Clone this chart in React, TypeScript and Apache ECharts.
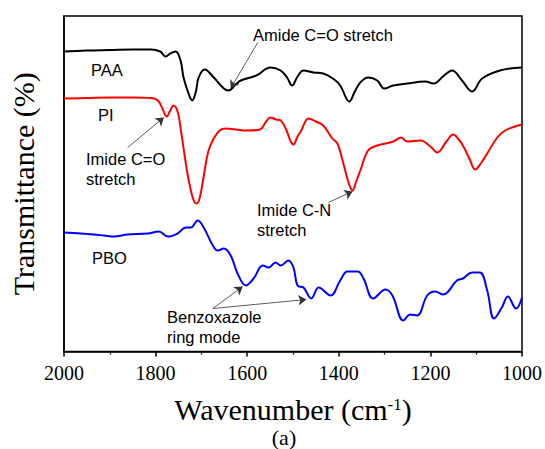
import React, { useEffect, useRef } from "react";
import * as echarts from "echarts";

// Wavenumber (cm-1) vs. transmittance (arbitrary offset units)
const paaData: [number, number][] = [
  [2000, 300], [1950, 301], [1900, 301.5], [1850, 302], [1810, 302], [1790, 300], [1778, 295], [1768, 298],
  [1756, 300], [1745, 290], [1739, 274], [1728, 258], [1720, 251], [1712, 260], [1706, 274], [1693, 282],
  [1673, 274], [1651, 263], [1641, 261], [1625, 267], [1614, 271], [1580, 276], [1549, 284], [1527, 281],
  [1513, 274], [1502, 266], [1490, 275], [1477, 281], [1455, 279], [1434, 278], [1410, 272], [1397, 266],
  [1377, 250], [1365, 260], [1353, 269], [1336, 274], [1316, 271], [1301, 263], [1281, 266], [1251, 268],
  [1211, 270], [1194, 268], [1170, 276], [1153, 281], [1131, 271], [1109, 260], [1087, 273], [1048, 281],
  [1000, 284],
];

const piData: [number, number][] = [
  [2000, 253], [1950, 253.5], [1900, 254], [1850, 254], [1810, 253.5], [1795, 251], [1785, 243], [1776, 235],
  [1768, 241], [1761, 246], [1752, 240], [1745, 222], [1735, 191], [1725, 165], [1716, 150], [1710, 148],
  [1703, 155], [1695, 175], [1685, 200], [1673, 213], [1660, 221], [1647, 223], [1625, 222], [1600, 221],
  [1572, 222], [1560, 229], [1549, 234], [1537, 232], [1527, 231], [1515, 222], [1505, 210], [1499, 207],
  [1490, 215], [1482, 221], [1466, 233], [1450, 230], [1434, 226], [1414, 213], [1403, 208], [1390, 188],
  [1378, 168], [1370, 161], [1362, 170], [1353, 181], [1336, 201], [1316, 206], [1281, 210], [1264, 214],
  [1251, 210], [1222, 211], [1200, 205], [1185, 199], [1165, 210], [1150, 217], [1138, 212], [1129, 206],
  [1115, 193], [1102, 182], [1090, 188], [1076, 198], [1054, 214], [1037, 221], [1015, 225], [1000, 227],
];

const pboData: [number, number][] = [
  [2000, 119], [1963, 118], [1935, 117], [1913, 116], [1891, 115], [1861, 117], [1817, 118], [1793, 120],
  [1773, 115], [1752, 118], [1734, 124], [1723, 124], [1708, 131], [1695, 124], [1675, 106], [1664, 101],
  [1651, 103], [1636, 96], [1621, 78], [1603, 66], [1586, 73], [1566, 86], [1553, 84], [1538, 89],
  [1527, 86], [1510, 91], [1499, 84], [1490, 66], [1477, 64], [1460, 53], [1444, 64], [1418, 56],
  [1397, 71], [1381, 80], [1359, 80], [1346, 73], [1325, 53], [1298, 62], [1283, 56], [1259, 31],
  [1244, 37], [1229, 36], [1207, 56], [1190, 60], [1172, 57], [1142, 71], [1129, 73], [1109, 79],
  [1092, 79], [1076, 61], [1061, 33], [1044, 44], [1031, 55], [1013, 43], [1000, 54],
];

// Annotation arrows: [from, to] in data coordinates
const arrows: [[number, number], [number, number]][] = [
  [[1577, 309], [1636, 263]],
  [[1861, 204], [1782, 234]],
  [[1423, 149], [1370, 160]],
  [[1675, 43], [1610, 65]],
  [[1675, 43], [1471, 52]],
];

const xTicks = { min: 1000, max: 2000, interval: 200 };

const SERIF = "'Liberation Serif', 'Times New Roman', serif";
const SANS = "'Liberation Sans', Arial, sans-serif";

export default function App() {
  const ref = useRef<HTMLDivElement>(null);
  useEffect(() => {
    if (!ref.current) return;
    const chart = echarts.init(ref.current, null, { renderer: "svg" });
    const lineSeries = (name: string, data: [number, number][], color: string) => ({
      name,
      type: "line",
      data,
      smooth: 0.4,
      showSymbol: false,
      symbol: "none",
      lineStyle: { color, width: 2 },
      silent: true,
    });
    const paa: any = lineSeries("PAA", paaData, "#000000");
    paa.markLine = {
      silent: true,
      symbol: ["none", "arrow"],
      symbolSize: 8,
      label: { show: false },
      lineStyle: { color: "#333", width: 0.8, type: "solid" },
      data: arrows.map(([a, b]) => [{ coord: a }, { coord: b }]),
    };
    const txt = (text: string, left: number, top: number) => ({
      type: "text",
      left,
      top,
      style: { text, font: `16.5px ${SANS}`, fill: "#000", lineHeight: 20 },
    });
    chart.setOption({
      animation: false,
      grid: { left: 64, right: 23, top: 16, bottom: 97.5, show: true, borderColor: "#000", borderWidth: 1.5 },
      xAxis: {
        type: "value",
        ...xTicks,
        inverse: true,
        axisLine: { show: true, lineStyle: { color: "#000", width: 1.5 } },
        axisTick: { show: true, length: 5, lineStyle: { color: "#000", width: 1.5 } },
        minorTick: { show: true, splitNumber: 2, length: 3, lineStyle: { color: "#000", width: 1.2 } },
        splitLine: { show: false },
        axisLabel: {
          fontFamily: SERIF,
          fontSize: 20,
          color: "#000",
          margin: 11,
          formatter: (v: number) => String(v),
        },
        name: "{n|Wavenumber (cm}{s|-1}{n|)}",
        nameLocation: "middle",
        nameGap: 44,
        nameTextStyle: {
          rich: {
            n: { fontFamily: SERIF, fontSize: 30, color: "#000", lineHeight: 28 },
            s: { fontFamily: SERIF, fontSize: 17, color: "#000", verticalAlign: "top", lineHeight: 28, padding: [0, 0, 12, 0] },
          },
        },
      },
      yAxis: {
        type: "value",
        min: 0,
        max: 335.5,
        axisLine: { show: true, lineStyle: { color: "#000", width: 1.5 } },
        axisTick: { show: false },
        axisLabel: { show: false },
        splitLine: { show: false },
        name: "Transmittance (%)",
        nameLocation: "middle",
        nameGap: 26,
        nameTextStyle: { fontFamily: SERIF, fontSize: 30, color: "#000" },
      },
      series: [paa, lineSeries("PI", piData, "#ff0000"), lineSeries("PBO", pboData, "#0000ff")],
      graphic: [
        txt("Amide C=O stretch", 253, 25),
        txt("PAA", 91, 60),
        txt("PI", 98, 105),
        txt("Imide C=O\nstretch", 86, 149),
        txt("Imide C-N\nstretch", 257, 200),
        txt("PBO", 92, 248),
        txt("Benzoxazole\nring mode", 167, 307),
        {
          type: "text",
          x: 284,
          y: 437,
          style: { text: "(a)", font: `22px ${SERIF}`, fill: "#000", align: "center", verticalAlign: "middle" },
        },
      ],
    });
    return () => chart.dispose();
  }, []);
  return <div ref={ref} style={{ position: "absolute", left: 0, top: 0, width: 545, height: 449 }} />;
}
